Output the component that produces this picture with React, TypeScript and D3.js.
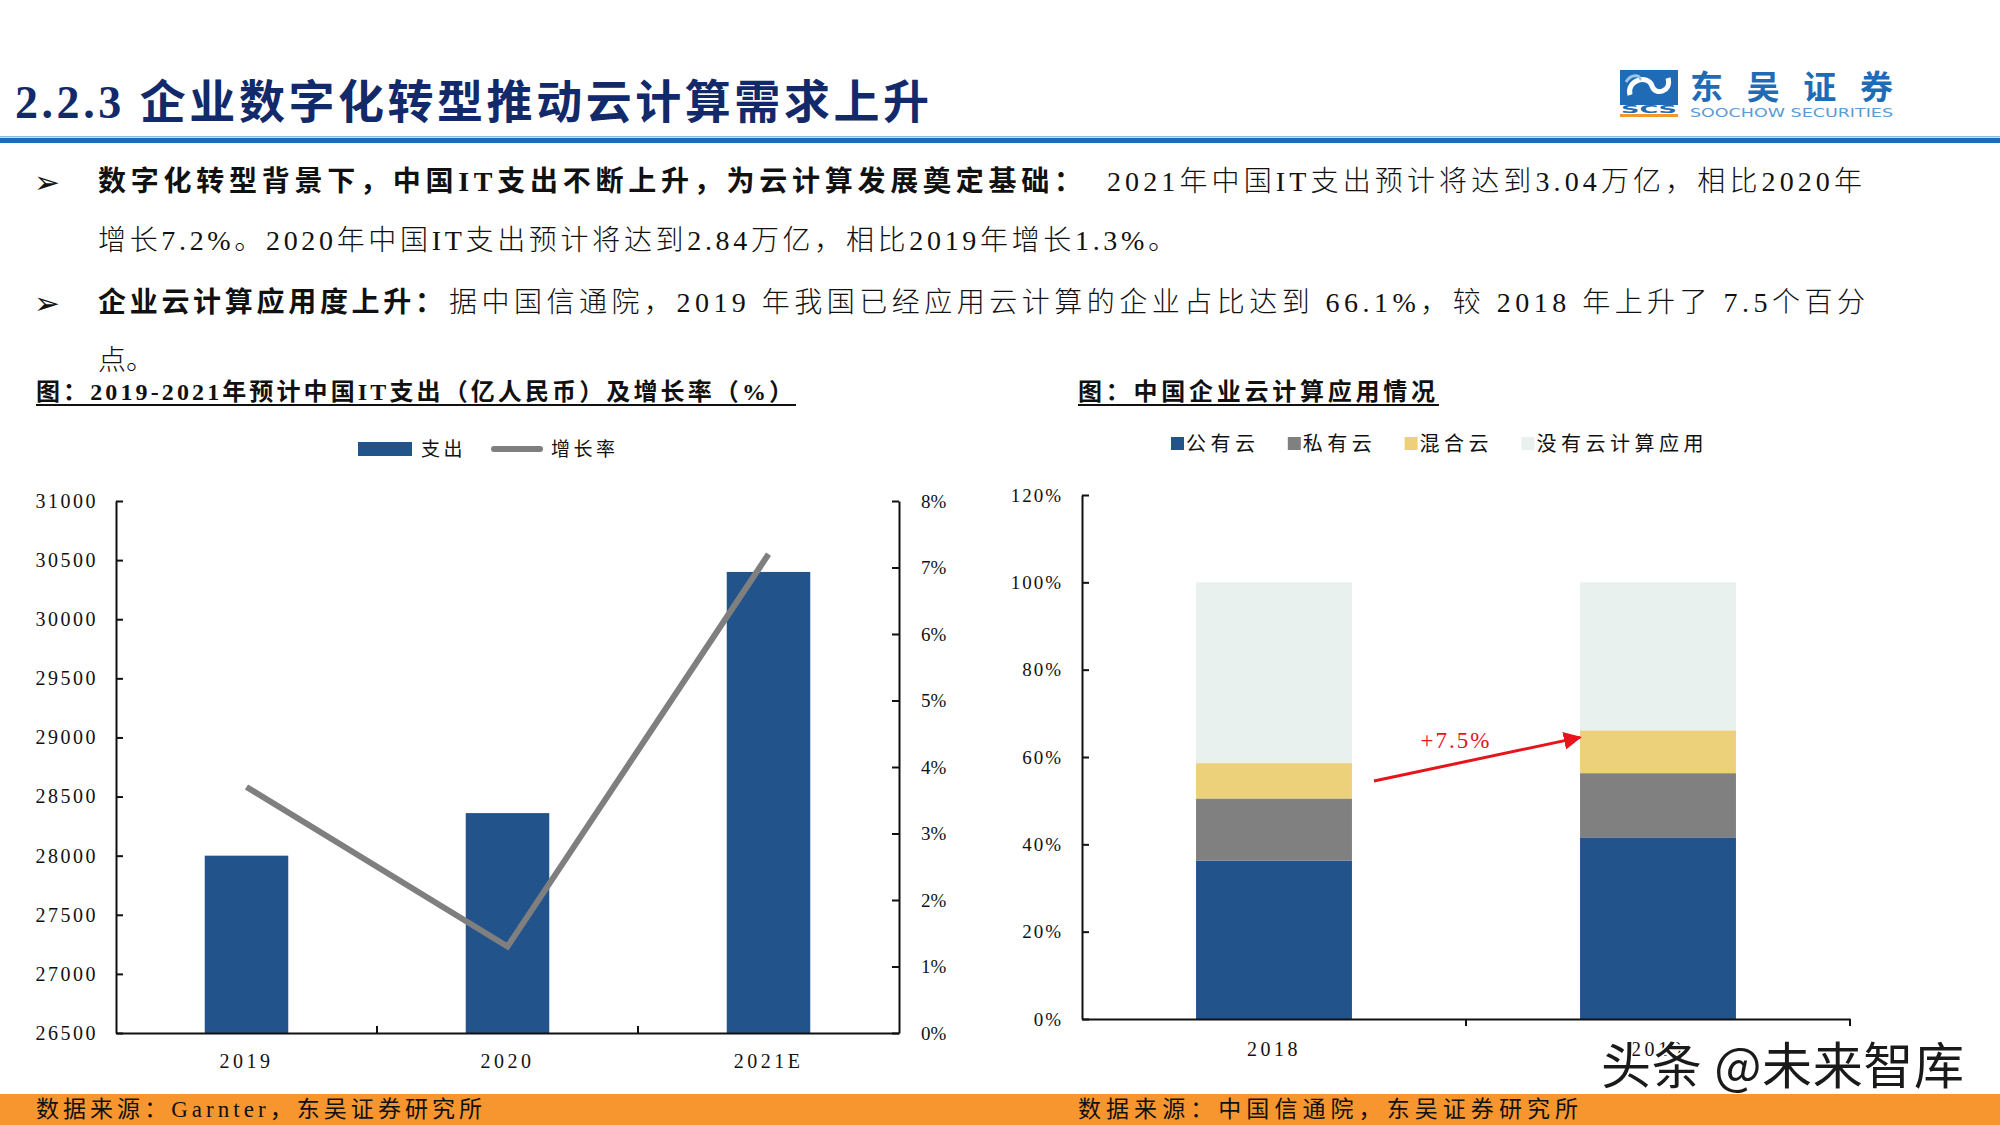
import * as d3 from "d3";
import { useEffect, useRef } from "react";

const W = 2000;
const H = 1125;

// left chart: China IT spending (100m RMB) and growth rate (%)
const IT_YEARS = ["2019", "2020", "2021E"];
const IT_SPEND = [28000, 28360, 30400];
const IT_GROWTH = [3.7, 1.3, 7.2];
const SPEND_TICKS = [26500, 27000, 27500, 28000, 28500, 29000, 29500, 30000, 30500, 31000];
const GROWTH_TICKS = [0, 1, 2, 3, 4, 5, 6, 7, 8];

// right chart: enterprise cloud usage (%)
const CLOUD_YEARS = ["2018", "2019"];
const CLOUD_KEYS = ["公有云", "私有云", "混合云", "没有云计算应用"];
const PUBLIC_CLOUD = [36.3, 41.6];
const PRIVATE_CLOUD = [14.2, 14.7];
const HYBRID_CLOUD = [8.1, 9.8];
const NO_CLOUD = [41.4, 33.9];
const SHARE_TICKS = [0, 20, 40, 60, 80, 100, 120];
const CLOUD_COLORS = ["#22538a", "#808080", "#edd07a", "#e9f1ef"];
const ARROW_FROM = 54.5;
const ARROW_TO = 64.5;

const SERIF = "'Liberation Serif', 'Noto Sans CJK SC', serif";
const CJK = "'Noto Sans CJK SC', sans-serif";
const BAR_BLUE = "#22538a";
const LINE_GRAY = "#7f7f7f";

// left chart frame
const L = { x0: 116, x1: 899, top: 501, bottom: 1033 };
// right chart frame
const R = { x0: 1082, x1: 1850, top: 495, bottom: 1019 };

export default function App() {
    const spendAxisRef = useRef<SVGGElement | null>(null);
    const growthAxisRef = useRef<SVGGElement | null>(null);
    const itXAxisRef = useRef<SVGGElement | null>(null);
    const shareAxisRef = useRef<SVGGElement | null>(null);
    const cloudXAxisRef = useRef<SVGGElement | null>(null);

    const xIt = d3.scaleBand<string>().domain(IT_YEARS).range([L.x0, L.x1]).padding(0);
    const ySpend = d3.scaleLinear().domain([26500, 31000]).range([L.bottom, L.top]);
    const yGrowth = d3.scaleLinear().domain([0, 8]).range([L.bottom, L.top]);
    const itBarW = xIt.bandwidth() * 0.32;

    const xCloud = d3.scaleBand<string>().domain(CLOUD_YEARS).range([R.x0, R.x1]).padding(0);
    const yShare = d3.scaleLinear().domain([0, 120]).range([R.bottom, R.top]);
    const cloudBarW = xCloud.bandwidth() * 0.406;

    const cloudRows = CLOUD_YEARS.map((year, i) => ({
        year,
        公有云: PUBLIC_CLOUD[i],
        私有云: PRIVATE_CLOUD[i],
        混合云: HYBRID_CLOUD[i],
        没有云计算应用: NO_CLOUD[i],
    }));
    const stacked = d3.stack<any>().keys(CLOUD_KEYS)(cloudRows);

    const growthLine = d3
        .line<number>()
        .x((_, i) => (xIt(IT_YEARS[i]) ?? 0) + xIt.bandwidth() / 2)
        .y((d) => yGrowth(d))(IT_GROWTH);

    useEffect(() => {
        document.body.style.margin = "0";
        const style = (g: any, spacing: number, size: number) => {
            g.attr("font-family", SERIF).attr("font-size", size);
            g.selectAll("text").attr("fill", "#111").attr("letter-spacing", spacing);
            g.selectAll("line,path").attr("stroke", "#111").attr("stroke-width", 2);
        };
        d3.select(spendAxisRef.current!)
            .call(d3.axisLeft(ySpend).tickValues(SPEND_TICKS).tickFormat((d) => String(d)).tickSize(-7).tickSizeOuter(0).tickPadding(18))
            .call((g) => style(g, 2.5, 20));
        d3.select(growthAxisRef.current!)
            .call(d3.axisRight(yGrowth).tickValues(GROWTH_TICKS).tickFormat((d) => `${d}%`).tickSize(-7).tickSizeOuter(0).tickPadding(22))
            .call((g) => style(g, 0, 19));
        d3.select(itXAxisRef.current!)
            .call(d3.axisBottom(xIt).tickSize(0).tickPadding(21))
            .call((g) => style(g, 3.5, 20));
        d3.select(shareAxisRef.current!)
            .call(d3.axisLeft(yShare).tickValues(SHARE_TICKS).tickFormat((d) => `${d}%`).tickSize(-7).tickSizeOuter(0).tickPadding(19))
            .call((g) => style(g, 2, 19));
        d3.select(cloudXAxisRef.current!)
            .call(d3.axisBottom(xCloud).tickSize(0).tickPadding(23))
            .call((g) => style(g, 3.5, 20));
    }, []);

    const arrowX1 = (xCloud("2018") ?? 0) + xCloud.bandwidth() / 2 + cloudBarW / 2 + 22;
    const arrowY1 = yShare(ARROW_FROM);
    const arrowX2 = (xCloud("2019") ?? 0) + xCloud.bandwidth() / 2 - cloudBarW / 2;
    const arrowY2 = yShare(ARROW_TO);

    let legendX = 1171;
    const cloudLegend = CLOUD_KEYS.map((k, i) => {
        const x = legendX;
        legendX += 15 + 24.6 * k.length + 28;
        return { k, x, color: CLOUD_COLORS[i] };
    });

    return (
        <svg width={W} height={H} viewBox={`0 0 ${W} ${H}`} style={{ display: "block", background: "#fff" }}>
            {/* header */}
            <text x={15} y={118} fontFamily={SERIF} fontWeight={700} fontSize={46} fill="#12296a" textLength={914} lengthAdjust="spacing">
                2.2.3 企业数字化转型推动云计算需求上升
            </text>
            <rect x={0} y={136} width={W} height={1.5} fill="#8dbbe6" />
            <rect x={0} y={138} width={W} height={5} fill="#1c6cb9" />

            {/* logo */}
            <g>
                <rect x={1620} y={70} width={58} height={35} fill="#1f6bb5" />
                <path d="M1630,95 C1626,80 1648,74 1652,86 C1655,96 1672,92 1668,78" fill="none" stroke="#fff" strokeWidth={5} />
                <path d="M1626,82 C1632,72 1642,76 1640,80" fill="none" stroke="#9cc5ea" strokeWidth={3} />
                <text x={1649} y={113} textAnchor="middle" fontFamily="'DejaVu Sans', sans-serif" fontWeight={700} fontSize={10} fill="#1f6bb5" textLength={56} lengthAdjust="spacingAndGlyphs">SCS</text>
                <rect x={1620} y={114} width={58} height={3} fill="#f7962f" />
                <text x={1690} y={99} fontFamily={CJK} fontWeight={700} fontSize={33} fill="#1f6bb5" textLength={203} lengthAdjust="spacing">东吴证券</text>
                <text x={1690} y={117} fontFamily="'DejaVu Sans', sans-serif" fontSize={13} fill="#5b9bd5" textLength={203} lengthAdjust="spacingAndGlyphs">SOOCHOW SECURITIES</text>
            </g>

            {/* bullets */}
            <g fill="#111">
                <text x={34} y={193} fontFamily="'DejaVu Sans', sans-serif" fontSize={31}>➢</text>
                <text x={98} y={191} fontFamily={SERIF} fontWeight={700} fontSize={28} textLength={984} lengthAdjust="spacing">数字化转型背景下，中国IT支出不断上升，为云计算发展奠定基础：</text>
                <text x={1107} y={191} fontFamily={SERIF} fontWeight={300} fontSize={28} textLength={755} lengthAdjust="spacing">2021年中国IT支出预计将达到3.04万亿，相比2020年</text>
                <text x={98} y={250} fontFamily={SERIF} fontWeight={300} fontSize={28} textLength={1078} lengthAdjust="spacing">增长7.2%。2020年中国IT支出预计将达到2.84万亿，相比2019年增长1.3%。</text>
                <text x={34} y={314} fontFamily="'DejaVu Sans', sans-serif" fontSize={31}>➢</text>
                <text x={98} y={312} fontFamily={SERIF} fontWeight={700} fontSize={28} textLength={345} lengthAdjust="spacing">企业云计算应用度上升：</text>
                <text x={449} y={312} fontFamily={SERIF} fontWeight={300} fontSize={28} textLength={1416} lengthAdjust="spacing">据中国信通院，2019 年我国已经应用云计算的企业占比达到 66.1%，较 2018 年上升了 7.5个百分</text>
                <text x={98} y={370} fontFamily={SERIF} fontWeight={300} fontSize={28}>点。</text>
            </g>

            {/* figure titles */}
            <text x={36} y={400} fontFamily={SERIF} fontWeight={700} fontSize={24} fill="#111" textLength={757} lengthAdjust="spacing">图：2019-2021年预计中国IT支出（亿人民币）及增长率（%）</text>
            <rect x={36} y={404} width={760} height={2} fill="#111" />
            <text x={1078} y={400} fontFamily={SERIF} fontWeight={700} fontSize={24} fill="#111" textLength={357} lengthAdjust="spacing">图：中国企业云计算应用情况</text>
            <rect x={1078} y={404} width={361} height={2} fill="#111" />

            {/* left chart legend */}
            <rect x={358} y={442} width={54} height={14} fill={BAR_BLUE} />
            <text x={421} y={456} fontFamily={SERIF} fontSize={19} letterSpacing={3.5} fill="#111">支出</text>
            <line x1={494} x2={540} y1={449} y2={449} stroke={LINE_GRAY} strokeWidth={6} strokeLinecap="round" />
            <text x={551} y={456} fontFamily={SERIF} fontSize={19} letterSpacing={3.5} fill="#111">增长率</text>

            {/* left chart marks */}
            {IT_YEARS.map((c, i) => (
                <rect
                    key={c}
                    x={(xIt(c) ?? 0) + (xIt.bandwidth() - itBarW) / 2}
                    y={ySpend(IT_SPEND[i])}
                    width={itBarW}
                    height={L.bottom - ySpend(IT_SPEND[i])}
                    fill={BAR_BLUE}
                />
            ))}
            <path d={growthLine ?? ""} fill="none" stroke={LINE_GRAY} strokeWidth={6} />
            <g ref={spendAxisRef} transform={`translate(${L.x0},0)`} />
            <g ref={growthAxisRef} transform={`translate(${L.x1},0)`} />
            <g ref={itXAxisRef} transform={`translate(0,${L.bottom})`} />
            {IT_YEARS.slice(1).map((c) => (
                <line key={c} x1={xIt(c)} x2={xIt(c)} y1={L.bottom} y2={L.bottom - 7} stroke="#111" strokeWidth={2} />
            ))}

            {/* right chart legend */}
            {cloudLegend.map((d) => (
                <g key={d.k}>
                    <rect x={d.x} y={437} width={13} height={13} fill={d.color} />
                    <text x={d.x + 15} y={451} fontFamily={SERIF} fontSize={20} letterSpacing={4.5} fill="#111">{d.k}</text>
                </g>
            ))}

            {/* right chart marks */}
            {stacked.map((layer, li) => (
                <g key={layer.key} fill={CLOUD_COLORS[li]}>
                    {layer.map((seg, i) => (
                        <rect
                            key={i}
                            x={(xCloud(CLOUD_YEARS[i]) ?? 0) + (xCloud.bandwidth() - cloudBarW) / 2}
                            y={yShare(seg[1])}
                            width={cloudBarW}
                            height={yShare(seg[0]) - yShare(seg[1])}
                        />
                    ))}
                </g>
            ))}
            <g ref={shareAxisRef} transform={`translate(${R.x0},0)`} />
            <g ref={cloudXAxisRef} transform={`translate(0,${R.bottom})`} />
            {CLOUD_YEARS.map((c) => {
                const x = (xCloud(c) ?? 0) + xCloud.bandwidth();
                return <line key={c} x1={x} x2={x} y1={R.bottom} y2={R.bottom + 7} stroke="#111" strokeWidth={2} />;
            })}

            {/* annotation arrow */}
            <defs>
                <marker id="redArrow" viewBox="0 0 10 10" refX={9} refY={5} markerWidth={6} markerHeight={6} orient="auto">
                    <path d="M0,0 L10,5 L0,10 z" fill="#e8141c" />
                </marker>
            </defs>
            <line x1={arrowX1} y1={arrowY1} x2={arrowX2} y2={arrowY2} stroke="#e8141c" strokeWidth={3} markerEnd="url(#redArrow)" />
            <text
                x={(arrowX1 + arrowX2) / 2 - 21}
                y={(arrowY1 + arrowY2) / 2 - 11}
                textAnchor="middle"
                fontFamily={SERIF}
                fontSize={23}
                letterSpacing={2}
                fill="#e8141c"
            >
                +7.5%
            </text>

            {/* watermark, drawn over the 2019 label as in the source */}
            <text
                x={1601}
                y={1084}
                fontFamily={CJK}
                fontSize={50}
                fill="#1a1a1a"
                stroke="#fff"
                strokeWidth={3}
                paintOrder="stroke"
                textLength={363}
                lengthAdjust="spacing"
            >
                头条 @未来智库
            </text>

            {/* sources */}
            <rect x={0} y={1094} width={W} height={31} fill="#f7962f" />
            <text x={36} y={1117} fontFamily={SERIF} fontSize={23} fill="#111" textLength={446} lengthAdjust="spacing">数据来源：Garnter，东吴证券研究所</text>
            <text x={1078} y={1117} fontFamily={SERIF} fontSize={23} fill="#111" textLength={500} lengthAdjust="spacing">数据来源：中国信通院，东吴证券研究所</text>
        </svg>
    );
}
